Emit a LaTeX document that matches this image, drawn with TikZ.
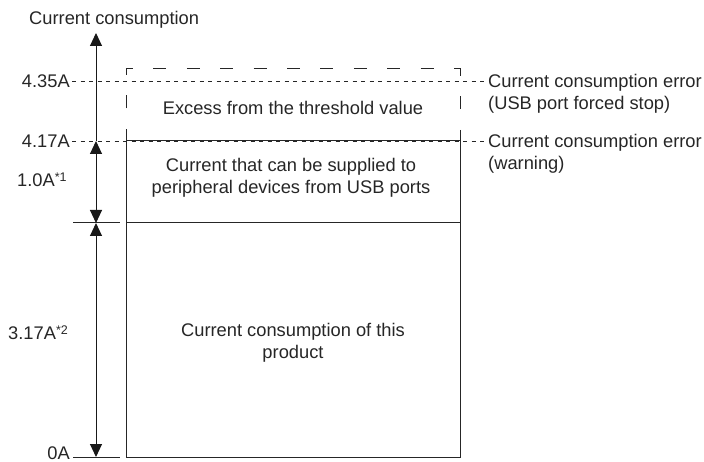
\documentclass[tikz,border=0pt]{standalone}
\usepackage{fontspec}
\setmainfont{Liberation Sans}
\usetikzlibrary{arrows.meta}
\begin{document}
\begin{tikzpicture}[x=1pt,y=-1pt,
  txt/.style={inner sep=0pt, font=\fontsize{18.3}{21.5}\selectfont, text=black!85},
  lvl/.style={draw=black!85, line width=0.7pt, dash pattern=on 4pt off 4.5pt},
  boxline/.style={draw=black!85, line width=1pt},
  dbox/.style={draw=black!85, line width=1pt, dash pattern=on 13pt off 20.4pt, dash phase=0.8pt},
  tick/.style={draw=black!85, line width=1pt},
  tip/.tip={Triangle[width=12pt,length=13pt]},
  dimarrow/.style={draw=black!90, line width=1pt}
]
\useasboundingbox (0,0) rectangle (704,462);

% titles and labels
\node[txt, anchor=base west] (title) at (29,24.6) {Current consumption};
\node[txt, anchor=base east] (t435) at (70,87.6) {4.35A};
\node[txt, anchor=base east] (t417) at (70,147.6) {4.17A};
\node[txt, anchor=base west] (t10) at (17,186.6) {1.0A\raisebox{5pt}{\fontsize{12.5}{12.5}\selectfont *1}};
\node[txt, anchor=base west] (t317) at (8,339.6) {3.17A\raisebox{5pt}{\fontsize{12.5}{12.5}\selectfont *2}};
\node[txt, anchor=base east] (t0) at (70,459) {0A};

\node[txt, anchor=north west, align=left] (e435) at (488,74.1) {Current consumption error\\(USB port forced stop)};
\node[txt, anchor=north west, align=left] (e417) at (488,134.1) {Current consumption error\\(warning)};

\node[txt, anchor=base] (excess) at (293,114.6) {Excess from the threshold value};
\node[txt, anchor=north, align=center] (usb) at (291,158.1) {Current that can be supplied to\\peripheral devices from USB ports};
\node[txt, anchor=north, align=center] (prod) at (293,323.1) {Current consumption of this\\product};

% coordinates
\coordinate (l435a) at (72,81);
\coordinate (l435b) at (486,81);
\coordinate (l417a) at (72,141);
\coordinate (l417b) at (486,141);

\coordinate (bTL) at (126,141);
\coordinate (bBR) at (460,457);
\coordinate (mL) at (126,223);
\coordinate (mR) at (460,223);

\coordinate (dBL) at (126,141);
\coordinate (dTL) at (126,69);
\coordinate (dTR) at (460,69);
\coordinate (dBR) at (460,141);

\coordinate (k1a) at (73,223);
\coordinate (k1b) at (120,223);
\coordinate (k0a) at (73,457);
\coordinate (k0b) at (120,457);

\coordinate (aTop) at (96,33);
\coordinate (a417) at (96,141);
\coordinate (a1) at (96,223);
\coordinate (a0) at (96,457);

% level lines
\draw[lvl] (l435a) -- (l435b);
\draw[lvl] (l417a) -- (l417b);

% boxes
\draw[dbox] (dBL) -- (dTL) -- (dTR) -- (dBR);
\draw[boxline] (bTL) rectangle (bBR);
\draw[boxline] (mL) -- (mR);

% ticks
\draw[tick] (k1a) -- (k1b);
\draw[tick] (k0a) -- (k0b);

% axis and dimension arrows
\draw[dimarrow, -{tip}] (a417) -- (aTop);
\draw[dimarrow, {tip}-{tip}] (a417) -- (a1);
\draw[dimarrow, {tip}-{tip}] (a1) -- (a0);
\end{tikzpicture}
\end{document}
